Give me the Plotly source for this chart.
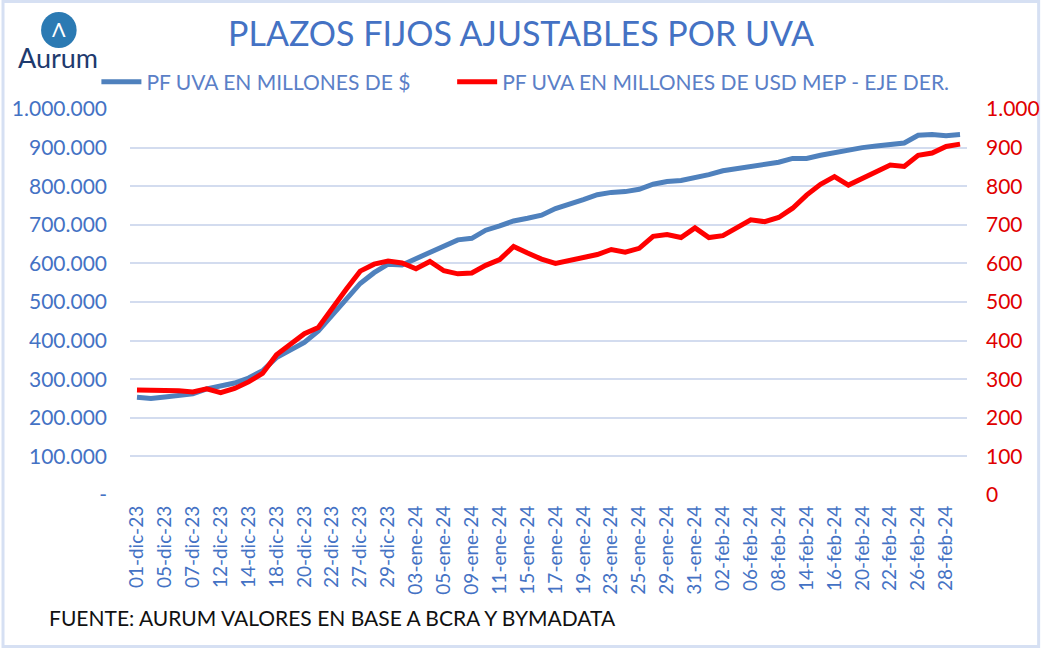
import plotly.graph_objects as go

# ---------------- DATA ----------------
fechas = [
    "01-dic-23", "04-dic-23", "05-dic-23", "06-dic-23", "07-dic-23", "11-dic-23", "12-dic-23", "13-dic-23",
    "14-dic-23", "15-dic-23", "18-dic-23", "19-dic-23", "20-dic-23", "21-dic-23", "22-dic-23", "26-dic-23",
    "27-dic-23", "28-dic-23", "29-dic-23", "02-ene-24", "03-ene-24", "04-ene-24", "05-ene-24", "08-ene-24",
    "09-ene-24", "10-ene-24", "11-ene-24", "12-ene-24", "15-ene-24", "16-ene-24", "17-ene-24", "18-ene-24",
    "19-ene-24", "22-ene-24", "23-ene-24", "24-ene-24", "25-ene-24", "26-ene-24", "29-ene-24", "30-ene-24",
    "31-ene-24", "01-feb-24", "02-feb-24", "05-feb-24", "06-feb-24", "07-feb-24", "08-feb-24", "09-feb-24",
    "14-feb-24", "15-feb-24", "16-feb-24", "19-feb-24", "20-feb-24", "21-feb-24", "22-feb-24", "23-feb-24",
    "26-feb-24", "27-feb-24", "28-feb-24", "29-feb-24",
]

# PF UVA en millones de $ (eje izquierdo)
pf_uva_pesos = [
    253000, 250000, 254000, 257000, 262000, 275000, 282000, 290000,
    303000, 322000, 356000, 375000, 395000, 425000, 467000, 510000,
    548000, 576000, 598000, 596000, 612000, 630000, 646000, 661000,
    665000, 686000, 697000, 710000, 717000, 725000, 742000, 752000,
    765000, 778000, 784000, 786000, 792000, 805000, 812000, 815000,
    822000, 830000, 840000, 845000, 849000, 857000, 862000, 872000,
    872000, 880000, 887000, 893000, 900000, 904000, 907000, 912000,
    932000, 934000, 931000, 934000,
]

# PF UVA en millones de USD MEP (eje derecho)
pf_uva_usd = [
    272, 272, 270, 270, 267, 275, 265, 276,
    293, 315, 363, 390, 418, 434, 485, 533,
    580, 598, 606, 601, 586, 605, 581, 573,
    575, 595, 610, 644, 627, 611, 600, 608,
    616, 623, 636, 629, 639, 670, 675, 667,
    692, 667, 672, 693, 713, 708, 719, 743,
    777, 805, 825, 803, 820, 837, 855, 851,
    880, 886, 903, 909,
]

left_tickvals = [0, 100000, 200000, 300000, 400000, 500000, 600000, 700000, 800000, 900000, 1000000]
left_ticktext = ["-", "100.000", "200.000", "300.000", "400.000", "500.000", "600.000",
                 "700.000", "800.000", "900.000", "1.000.000"]
right_tickvals = [0, 100, 200, 300, 400, 500, 600, 700, 800, 900, 1000]
right_ticktext = ["0", "100", "200", "300", "400", "500", "600", "700", "800", "900", "1.000"]

xtick_labels = fechas[::2]

serie1_nombre = "PF UVA EN MILLONES DE $"
serie2_nombre = "PF UVA EN MILLONES DE USD MEP - EJE DER."
titulo = "PLAZOS FIJOS AJUSTABLES POR UVA"
fuente = "FUENTE: AURUM VALORES EN BASE A BCRA Y BYMADATA"

# ---------------- LAYOUT GEOMETRY ----------------
W, H = 1052, 649
L, R, T, B = 130, 75, 109, 154
PW, PH = W - L - R, H - T - B

def px(x):
    return (x - L) / PW

def py(y):
    return (H - B - y) / PH

FONT = "Lato"
BLUE_TXT = "#4472C4"
RED_TXT = "#E00000"
BLUE_LINE = "#4F81BD"
RED_LINE = "#FF0000"
GRID = "#D3DCEF"
LEG_TXT = "#5B7FC7"

fig = go.Figure()
fig.add_trace(go.Scatter(
    x=fechas, y=pf_uva_pesos, name=serie1_nombre, mode="lines",
    line=dict(color=BLUE_LINE, width=5), yaxis="y", legend="legend",
))
fig.add_trace(go.Scatter(
    x=fechas, y=pf_uva_usd, name=serie2_nombre, mode="lines",
    line=dict(color=RED_LINE, width=5), yaxis="y2", legend="legend2",
))

leg_common = dict(
    orientation="h", xanchor="left", yanchor="middle",
    font=dict(family=FONT, size=21, color=LEG_TXT),
    bgcolor="rgba(0,0,0,0)", itemwidth=40,
)

fig.update_layout(
    width=W, height=H,
    margin=dict(l=L, r=R, t=T, b=B),
    paper_bgcolor="white", plot_bgcolor="white",
    font=dict(family=FONT, color=BLUE_TXT),
    showlegend=True,
    legend=dict(x=px(96), y=py(82), **leg_common),
    legend2=dict(x=px(456), y=py(82), **leg_common),
    xaxis=dict(
        type="category", categoryorder="array", categoryarray=fechas,
        range=[-0.5, len(fechas) - 0.5],
        tickmode="array", tickvals=xtick_labels, ticktext=xtick_labels,
        tickangle=-90, tickfont=dict(family=FONT, size=19, color=BLUE_TXT),
        showgrid=False, showline=False, zeroline=False, ticks="", ticklabelstandoff=6,
    ),
    yaxis=dict(
        range=[0, 1000000], tickmode="array", tickvals=left_tickvals, ticktext=left_ticktext,
        tickfont=dict(family=FONT, size=21, color=BLUE_TXT),
        showgrid=True, gridcolor=GRID, gridwidth=2, zeroline=False, showline=False,
        ticks="", ticklabelstandoff=22,
    ),
    yaxis2=dict(
        range=[0, 1000], overlaying="y", side="right",
        tickmode="array", tickvals=right_tickvals, ticktext=right_ticktext,
        tickfont=dict(family=FONT, size=21, color=RED_TXT),
        showgrid=False, zeroline=False, showline=False, ticks="", ticklabelstandoff=18,
    ),
)

annotations = [
    dict(text=titulo, x=px(526), y=py(33), xref="paper", yref="paper",
         xanchor="center", yanchor="middle", showarrow=False,
         font=dict(family=FONT, size=34, color=BLUE_TXT)),
    dict(text=fuente, x=px(46), y=py(617), xref="paper", yref="paper",
         xanchor="left", yanchor="middle", showarrow=False,
         font=dict(family=FONT, size=21, color="#111111")),
    # logo
    dict(text="Λ", x=px(58), y=py(29), xref="paper", yref="paper",
         xanchor="center", yanchor="middle", showarrow=False,
         font=dict(family=FONT, size=20, color="white")),
    dict(text="Aurum", x=px(57), y=py(58), xref="paper", yref="paper",
         xanchor="center", yanchor="middle", showarrow=False,
         font=dict(family=FONT, size=27, color="#1E3A6E")),
]
fig.update_layout(annotations=annotations)

shapes = [
    # outer light-blue frame
    dict(type="rect", xref="paper", yref="paper",
         x0=px(1.5), x1=px(W - 2.5), y0=py(H - 2.5), y1=py(1.5),
         line=dict(color="#D6E0F3", width=3), fillcolor="rgba(0,0,0,0)", layer="below"),
    # logo circle
    dict(type="circle", xref="paper", yref="paper",
         x0=px(40), x1=px(76), y0=py(48), y1=py(12),
         line=dict(width=0), fillcolor="#2B7AB3"),
]
fig.update_layout(shapes=shapes)

fig.write_html("out.html")
